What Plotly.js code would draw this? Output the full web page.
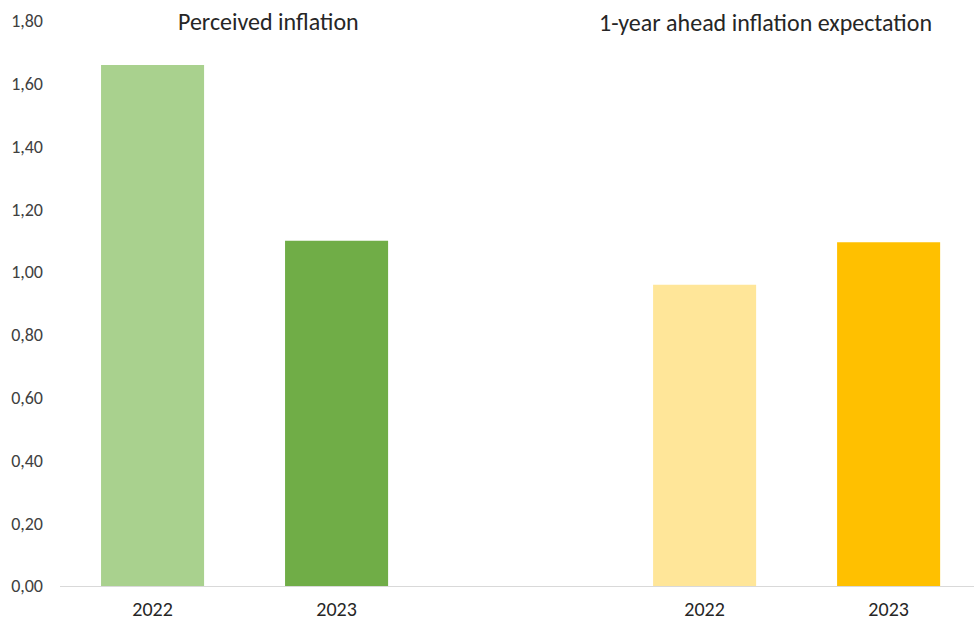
<!DOCTYPE html>
<html>
<head>
<meta charset="utf-8">
<script src="https://cdn.plot.ly/plotly-3.0.1.min.js"></script>
<style>html,body{margin:0;padding:0;background:#fff;}#chart{width:974px;height:623px;}</style>
</head>
<body>
<div id="chart"></div>
<script>
const slotPositions = [0, 1, 2, 3, 4];
const tickLabels = ["2022", "2023", "", "2022", "2023"];
const perceivedX = [0, 1];
const perceivedValues = [1.66, 1.10];
const perceivedColors = ["#a9d18e", "#70ad47"];
const expectationX = [3, 4];
const expectationValues = [0.96, 1.095];
const expectationColors = ["#ffe699", "#ffc000"];
const panelTitles = ["Perceived inflation", "1-year ahead inflation expectation"];

const fontFam = "Carlito, Lato, 'Open Sans', sans-serif";

const traces = [
  {type: "bar", x: perceivedX, y: perceivedValues, width: 0.56,
   marker: {color: perceivedColors}, name: panelTitles[0], hoverinfo: "y"},
  {type: "bar", x: expectationX, y: expectationValues, width: 0.56,
   marker: {color: expectationColors}, name: panelTitles[1], hoverinfo: "y"}
];

const layout = {
  width: 974, height: 623,
  margin: {l: 60, r: 0, t: 21, b: 37},
  paper_bgcolor: "#ffffff", plot_bgcolor: "#ffffff",
  showlegend: false,
  separators: ", ",
  font: {family: fontFam, color: "#404040"},
  xaxis: {
    range: [-0.503, 4.464], tickvals: slotPositions, ticktext: tickLabels,
    showgrid: false, zeroline: false, showline: true, linecolor: "#d9d9d9", linewidth: 1,
    ticks: "", tickfont: {size: 20, color: "#262626", family: fontFam}, ticklabelstandoff: 5,
    automargin: false
  },
  yaxis: {
    range: [0, 1.8], dtick: 0.2, tickformat: ".2f",
    showgrid: false, zeroline: false, showline: false, ticks: "",
    tickfont: {size: 18, color: "#404040", family: fontFam}, ticklabelstandoff: 16
  },
  annotations: [
    {xref: "paper", yref: "paper", x: (268 - 60) / 914, y: 1.0, xanchor: "center", yanchor: "middle",
     text: panelTitles[0], showarrow: false, font: {size: 24, color: "#262626", family: fontFam}},
    {xref: "paper", yref: "paper", x: (765 - 60) / 914, y: 0.997, xanchor: "center", yanchor: "middle",
     text: panelTitles[1], showarrow: false, font: {size: 24, color: "#262626", family: fontFam}}
  ]
};

Plotly.newPlot("chart", traces, layout, {displayModeBar: false, staticPlot: true});
</script>
</body>
</html>
